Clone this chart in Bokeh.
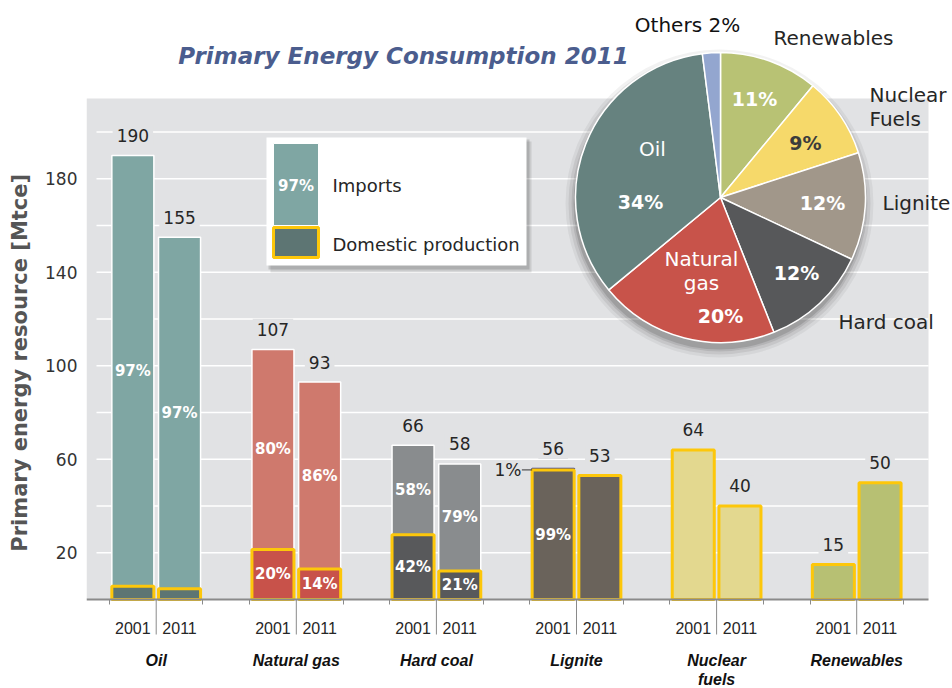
import numpy as np
from bokeh.plotting import figure
from bokeh.models import ColumnDataSource, Range1d, LinearAxis, FixedTicker
from bokeh.core.properties import value
from bokeh.embed import file_html
from bokeh.resources import INLINE

# ---------------- data ----------------
categories = ["Oil", "Natural gas", "Hard coal", "Lignite", "Nuclear\nfuels", "Renewables"]
years = ["2001", "2011"]
total_2001 = [190, 107, 66, 56, 64, 15]
total_2011 = [155, 93, 58, 53, 40, 50]
import_share_2001 = [97, 80, 58, 1, 0, 0]
import_share_2011 = [97, 86, 79, 0, 0, 0]
y_tick_values = [20, 60, 100, 140, 180]
grid_values = [20, 40, 60, 80, 100, 120, 140, 160, 180, 200]

title_text = "Primary Energy Consumption 2011"
pie_names = ["Renewables", "Nuclear\nFuels", "Lignite", "Hard coal", "Natural\ngas", "Oil", "Others"]
pie_shares = [11, 9, 12, 12, 20, 34, 2]
legend_labels = ["Imports", "Domestic production"]
y_label = "Primary energy resource [Mtce]"

# ---------------- styles ----------------
import_colors = ["#7FA6A3", "#CF796D", "#898C8E", "#3A3F94", "#E3D88F", "#B7C073"]
domestic_colors = ["#5D7573", "#C8524A", "#58595B", "#6A635B", "#E3D88F", "#B7C073"]
pie_colors = ["#B8C274", "#F6D96A", "#A1978A", "#57585A", "#C8534A", "#66827F", "#93A6CF"]
GREY_BG = "#E1E2E4"
YELLOW = "#FDC70A"
FONT = "DejaVu Sans"
NARROW = "Liberation Sans"
TEXT_DARK = "#262626"

# ---------------- geometry (page pixels -> data) ----------------
FIG_W, FIG_H = 952, 688
BORDER_L = 86
PX_X, PX_Y = 46.7, 2.3375          # pixels per data unit
X_ZERO_PX, Y_ZERO_PX = 109, 599    # page position of x=0 / y=0
FRAME_LEFT_PX, FRAME_TOP_PX = BORDER_L, 0
FRAME_W, FRAME_H = FIG_W - BORDER_L, FIG_H

X0 = (FRAME_LEFT_PX - X_ZERO_PX) / PX_X
X1 = X0 + FRAME_W / PX_X
Y1 = (Y_ZERO_PX - FRAME_TOP_PX) / PX_Y
Y0 = Y1 - FRAME_H / PX_Y


def ix(px):
    return (px - X_ZERO_PX) / PX_X


def iy(py):
    return (Y_ZERO_PX - py) / PX_Y


PLOT_RIGHT = ix(928)
PLOT_TOP = iy(98)
BAR_W = 0.9
LABEL_GAP = 8.6

p = figure(width=FIG_W, height=FIG_H, x_range=Range1d(X0, X1), y_range=Range1d(Y0, Y1),
           x_axis_type=None, y_axis_type=None, toolbar_location=None, output_backend="svg",
           min_border_left=BORDER_L, min_border_right=0, min_border_top=0, min_border_bottom=0,
           outline_line_color=None, background_fill_color="white", border_fill_color="white")

# grey plotting area and grid
p.quad(left=[X0], right=[PLOT_RIGHT], bottom=[0], top=[PLOT_TOP], fill_color=GREY_BG, line_color=None)
p.segment(x0=[ix(96)] * len(grid_values), x1=[PLOT_RIGHT] * len(grid_values),
          y0=grid_values, y1=grid_values, line_color="white", line_width=1.6)

# ---------------- bars ----------------
xs, tots, doms, imp_sh, dom_sh, icol, dcol, iline = [], [], [], [], [], [], [], []
for i in range(len(categories)):
    for j, (tot, sh) in enumerate([(total_2001[i], import_share_2001[i]),
                                   (total_2011[i], import_share_2011[i])]):
        xs.append(3 * i + 0.5 + j)
        tots.append(tot)
        doms.append(tot * (100 - sh) / 100)
        imp_sh.append(sh)
        dom_sh.append(100 - sh)
        icol.append(import_colors[i])
        dcol.append(domestic_colors[i])
        iline.append("white" if tot * sh / 100 >= 3 else import_colors[i])

src = ColumnDataSource(dict(x=xs, total=tots, dom=doms, imp=imp_sh, domsh=dom_sh,
                            icol=icol, dcol=dcol, iline=iline,
                            lab=[str(t) for t in tots], laby=[t + LABEL_GAP for t in tots]))

imp_idx = [k for k in range(len(xs)) if imp_sh[k] > 0]
isrc = ColumnDataSource(dict(x=[xs[k] for k in imp_idx], bottom=[doms[k] for k in imp_idx],
                             top=[tots[k] for k in imp_idx], c=[icol[k] for k in imp_idx],
                             lc=[iline[k] for k in imp_idx]))
p.vbar(x="x", width=BAR_W, bottom="bottom", top="top", source=isrc,
       fill_color="c", line_color="lc", line_width=1.5)
p.vbar(x="x", width=BAR_W, bottom=0, top="dom", source=src,
       fill_color="dcol", line_color=YELLOW, line_width=3)

# value labels above bars
p.text(x="x", y="laby", text="lab", source=src, text_font=value(FONT), text_font_size="17px",
       text_color=TEXT_DARK, text_align="center", text_baseline="middle",
       background_fill_color=GREY_BG, padding=4)

# share labels inside bars
sx, sy, st = [], [], []
for k in range(len(xs)):
    iseg = tots[k] - doms[k]
    if 0 < imp_sh[k] < 100 and iseg >= 10:
        sx.append(xs[k]); sy.append((doms[k] + tots[k]) / 2); st.append(f"{imp_sh[k]}%")
    if 0 < dom_sh[k] < 100 and doms[k] >= 10:
        sx.append(xs[k]); sy.append(doms[k] / 2); st.append(f"{dom_sh[k]}%")
p.text(x=sx, y=sy, text=st, text_font=value(FONT), text_font_size="15px", text_font_style="bold",
       text_color="white", text_align="center", text_baseline="middle")

# small import share outside the bar
for k in range(len(xs)):
    iseg = tots[k] - doms[k]
    if 0 < imp_sh[k] and iseg < 3:
        left = xs[k] - BAR_W / 2
        p.segment(x0=[left - 0.22], x1=[left], y0=[doms[k]], y1=[doms[k]], line_color="#333", line_width=1)
        p.text(x=[left - 0.23], y=[doms[k]], text=[f"{imp_sh[k]}%"], text_font=value(FONT),
               text_font_size="17px", text_color=TEXT_DARK, text_align="right", text_baseline="middle")

# long separator ticks between the two years
sep_x = [3 * i + 1 for i in range(len(categories))]
p.segment(x0=sep_x, x1=sep_x, y0=[0] * len(sep_x), y1=[iy(634)] * len(sep_x),
          line_color="#8A8A8A", line_width=1)

# ---------------- legend ----------------
p.quad(left=[ix(270)], right=[ix(531)], bottom=[iy(272)], top=[iy(141)], fill_color="#000000",
       fill_alpha=0.10, line_color=None)
p.quad(left=[ix(268)], right=[ix(529)], bottom=[iy(269)], top=[iy(139)], fill_color="#000000",
       fill_alpha=0.14, line_color=None)
p.quad(left=[ix(266)], right=[ix(526)], bottom=[iy(265)], top=[iy(137)], fill_color="white", line_color=None)
p.quad(left=[ix(273)], right=[ix(318)], bottom=[iy(225)], top=[iy(143)], fill_color=import_colors[0],
       line_color="white", line_width=1)
p.quad(left=[ix(273)], right=[ix(318)], bottom=[iy(257)], top=[iy(227)], fill_color=domestic_colors[0],
       line_color=YELLOW, line_width=3)
p.text(x=[ix(295.5)], y=[iy(185)], text=[f"{import_share_2001[0]}%"], text_font=value(FONT),
       text_font_size="15px", text_font_style="bold", text_color="white", text_align="center",
       text_baseline="middle")
p.text(x=[ix(332), ix(332)], y=[iy(185), iy(244)], text=legend_labels, text_font=value(FONT),
       text_font_size="18px", text_color=TEXT_DARK, text_align="left", text_baseline="middle")

# ---------------- pie ----------------
PIE_CX, PIE_CY, PIE_R = ix(720), iy(197), 145
for k, a in zip([9, 6, 3, 1], [0.05, 0.07, 0.09, 0.12]):
    p.scatter(x=[PIE_CX - 1 / PX_X], y=[PIE_CY - 6 / PX_Y], size=2 * (PIE_R + k), marker="circle",
              fill_color="#000000", fill_alpha=a, line_color=None)

cum = np.concatenate([[0], np.cumsum(pie_shares)])
ends = np.pi / 2 - 2 * np.pi * cum[:-1] / 100
starts = np.pi / 2 - 2 * np.pi * cum[1:] / 100
p.wedge(x=[PIE_CX] * len(pie_shares), y=[PIE_CY] * len(pie_shares), radius=PIE_R, radius_units="screen",
        start_angle=list(starts), end_angle=list(ends), fill_color=pie_colors,
        line_color="white", line_width=1.5)

# label layout: pixel offsets from the pie centre (name, pct)
pie_layout = {
    "Renewables": ((113, -160, "center", TEXT_DARK), (34, -99, "white")),
    "Nuclear\nFuels": ((149, -91, "left", TEXT_DARK), (85, -55, "#3C3C3C")),
    "Lignite": ((162, 5, "left", TEXT_DARK), (102, 5, "white")),
    "Hard coal": ((118, 124, "left", TEXT_DARK), (76, 75, "white")),
    "Natural\ngas": ((-19, 73, "center", "white"), (0, 118, "white")),
    "Oil": ((-68, -49, "center", "white"), (-80, 4, "white")),
    "Others": ((-33, -173, "center", "#111111"), None),
}
for name, share in zip(pie_names, pie_shares):
    (ndx, ndy, nal, ncol), pct = pie_layout[name]
    label = name if pct is not None else f"{name} {share}%"
    p.text(x=[PIE_CX + ndx / PX_X], y=[PIE_CY - ndy / PX_Y], text=[label], text_font=value(FONT),
           text_font_size="20px", text_color=ncol, text_align=nal, text_baseline="middle",
           text_line_height=1.0)
    if pct is not None:
        pdx, pdy, pcol = pct
        p.text(x=[PIE_CX + pdx / PX_X], y=[PIE_CY - pdy / PX_Y], text=[f"{share}%"],
               text_font=value(FONT), text_font_size="19px", text_font_style="bold",
               text_color=pcol, text_align="center", text_baseline="middle")

# title
p.text(x=[ix(403)], y=[iy(55)], text=[title_text], text_font=value(FONT), text_font_size="23px",
       text_font_style="bold italic", text_color="#4B5D8E", text_align="center", text_baseline="middle")

# ---------------- axes ----------------
NBSP = "\u00a0"
yax = LinearAxis(ticker=FixedTicker(ticks=y_tick_values), bounds=(0, 202),
                 axis_label=y_label + NBSP * 5,
                 axis_line_color=None, major_tick_line_color=None, minor_tick_line_color=None,
                 major_tick_out=0, major_tick_in=0, major_label_standoff=9,
                 major_label_text_font=FONT, major_label_text_font_size="17px",
                 major_label_text_color="#333333",
                 axis_label_text_font=FONT, axis_label_text_font_size="21px",
                 axis_label_text_font_style="bold", axis_label_text_color="#555555",
                 axis_label_standoff=10)
p.add_layout(yax, "left")

year_ticks, year_over = [], {}
for i in range(len(categories)):
    for j, yr in enumerate(years):
        t = 3 * i + 0.5 + j
        year_ticks.append(t)
        year_over[t] = yr
edge_ticks = [3 * i + e for i in range(len(categories)) for e in (0, 2)]
xax = LinearAxis(fixed_location=0, bounds=(X0, PLOT_RIGHT),
                 ticker=FixedTicker(ticks=year_ticks, minor_ticks=edge_ticks),
                 major_label_overrides=year_over,
                 axis_line_color="#8A8A8A", axis_line_width=2,
                 major_tick_line_color=None, major_tick_out=0, major_tick_in=0,
                 minor_tick_line_color="#8A8A8A", minor_tick_out=5, minor_tick_in=0,
                 major_label_standoff=17, major_label_text_font=NARROW,
                 major_label_text_font_size="16px", major_label_text_color=TEXT_DARK)
p.add_layout(xax, "below")

cat_ticks = [3 * i + 1 for i in range(len(categories))]
cax = LinearAxis(fixed_location=0, ticker=FixedTicker(ticks=cat_ticks),
                 major_label_overrides={t: c for t, c in zip(cat_ticks, categories)},
                 axis_line_color=None, major_tick_line_color=None, minor_tick_line_color=None,
                 major_tick_out=0, major_tick_in=0, major_label_standoff=52,
                 major_label_text_font=NARROW, major_label_text_font_size="16px",
                 major_label_text_font_style="bold italic", major_label_text_color="#111111",
                 major_label_text_line_height=1.15)
p.add_layout(cax, "below")

open("out.html", "w").write(file_html(p, INLINE))
